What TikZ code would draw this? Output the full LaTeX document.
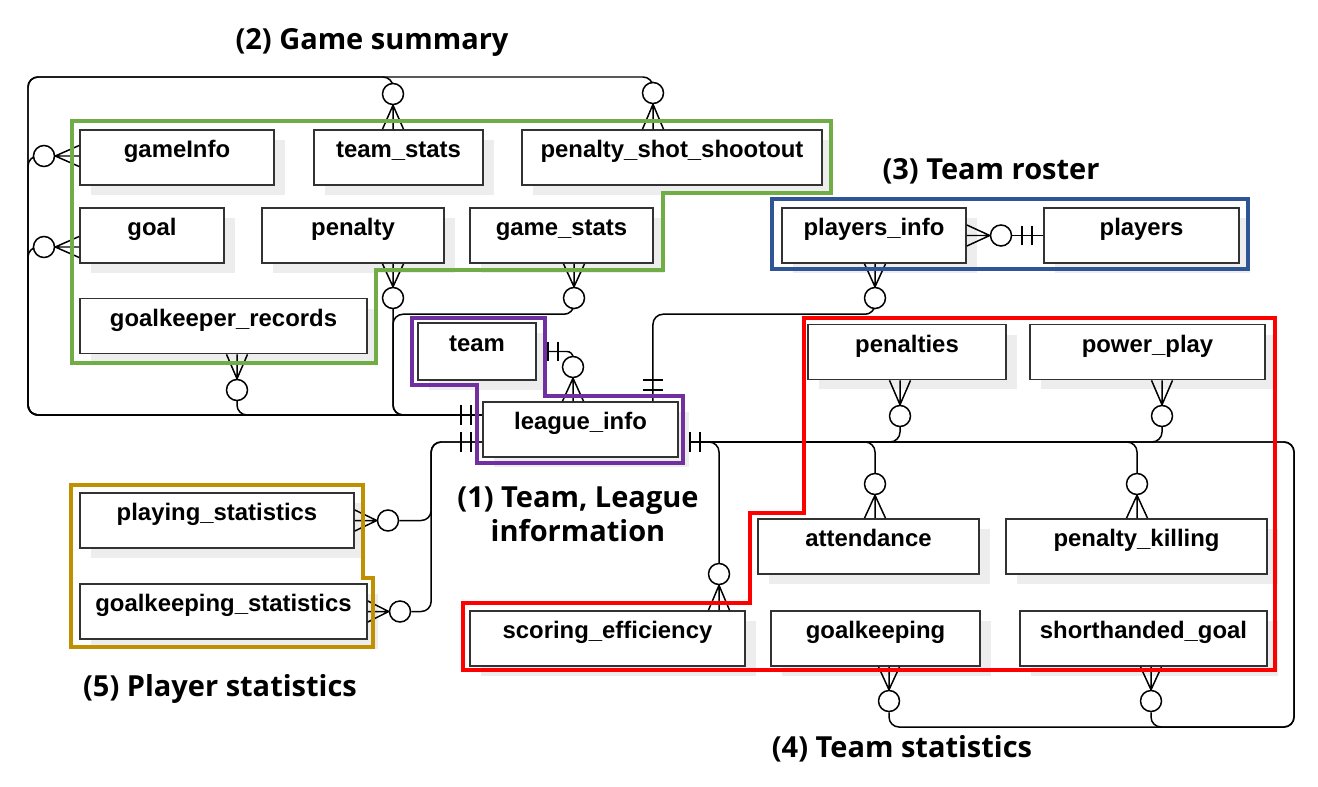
\documentclass[tikz,border=0pt]{standalone}
\usepackage{fontspec}
\setmainfont{Liberation Sans}
\newfontfamily\labelfont{Open Sans}[BoldFont={* Bold}]
\usepackage{tikz}
\usetikzlibrary{calc, shadows, backgrounds}
\definecolor{summarycolor}{RGB}{112, 173, 71}
\definecolor{rostercolor}{RGB}{47, 85, 151}
\definecolor{statscolor}{RGB}{255, 0, 0}
\definecolor{leaguecolor}{RGB}{112, 48, 160}
\definecolor{playercolor}{RGB}{191, 144, 0}
\definecolor{boxline}{RGB}{50, 50, 50}

\tikzset{
  entity/.style={draw=boxline, line width=1pt, fill=white, minimum height=1.1cm,
    text height=0.35cm, text depth=0.35cm, inner sep=0pt,
    font=\fontsize{13.6}{16}\selectfont\bfseries,
    drop shadow={shadow xshift=0.22cm, shadow yshift=-0.2cm, fill=black!7, opacity=1}},
  zero/.style={circle, draw, line width=0.85pt, fill=white, minimum size=0.42cm, inner sep=0pt},
  conn/.style={line width=0.85pt, rounded corners=0.2cm},
  group/.style={line width=2.5pt},
  grouplabel/.style={font=\labelfont\bfseries\fontsize{16.5}{19.4}\selectfont, align=center}
}

% crow's foot: #1 apex at the circle, #2 middle of the box edge
\newcommand{\crowfoot}[2]{%
  \draw[line width=0.85pt] (#1) -- (#2)
    (#1) -- ($(#2)!0.21cm!90:(#1)$)
    (#1) -- ($(#2)!0.21cm!-90:(#1)$);}
% exactly one: #1 point on the box edge, #2 direction of the line
\newcommand{\onlyone}[2]{%
  \draw[line width=0.85pt] (#1) ++(#2:0.22cm) ++(#2+90:0.2cm) -- ++(#2-90:0.4cm)
    (#1) ++(#2:0.42cm) ++(#2+90:0.2cm) -- ++(#2-90:0.4cm);}

\begin{document}
\begin{tikzpicture}[x=0.02cm, y=-0.02cm]
    \useasboundingbox (0,0) rectangle (1318,787);

    % Game summary
    \node[entity, minimum width=3.88cm] (gameinfo) at (177,157.5) {gameInfo};
    \node[entity, minimum width=3.38cm] (teamstats) at (398.5,157.5) {team\_stats};
    \node[entity, minimum width=6.0cm] (shootout) at (672,157.5) {penalty\_shot\_shootout};
    \node[entity, minimum width=2.88cm] (goal) at (152,235.5) {goal};
    \node[entity, minimum width=3.64cm] (penalty) at (353,235.5) {penalty};
    \node[entity, minimum width=3.66cm] (gamestats) at (561.5,235.5) {game\_stats};
    \node[entity, minimum width=5.74cm] (gkrecords) at (223.5,326) {goalkeeper\_records};

    % Team, league information
    \node[entity, minimum width=2.36cm, minimum height=1.14cm] (team) at (477,351.5) {team};
    \node[entity, minimum width=3.9cm] (leagueinfo) at (580.5,429.5) {league\_info};

    % Team roster
    \node[entity, minimum width=3.68cm] (playersinfo) at (874,235.5) {players\_info};
    \node[entity, minimum width=3.9cm] (players) at (1141.5,235.5) {players};

    % Team statistics
    \node[entity, minimum width=3.96cm] (penalties) at (907,352) {penalties};
    \node[entity, minimum width=4.7cm] (powerplay) at (1147.5,352) {power\_play};
    \node[entity, minimum width=4.42cm] (attendance) at (868.5,546.5) {attendance};
    \node[entity, minimum width=5.22cm] (penaltykilling) at (1136.5,546.5) {penalty\_killing};
    \node[entity, minimum width=5.5cm] (scoring) at (607.5,638.5) {scoring\_efficiency};
    \node[entity, minimum width=4.18cm] (goalkeeping) at (875.5,638.5) {goalkeeping};
    \node[entity, minimum width=4.94cm] (shorthanded) at (1143.5,638.5) {shorthanded\_goal};

    % Player statistics
    \node[entity, minimum width=5.48cm] (playingstats) at (217,520.5) {playing\_statistics};
    \node[entity, minimum width=5.74cm] (gkstats) at (223.5,611.5) {goalkeeping\_statistics};

    % zero-or-many circles
    \node[zero] (tsc) at (393,94) {};
    \node[zero] (ssc) at (653,93) {};
    \node[zero] (gic) at (44,156) {};
    \node[zero] (glc) at (44,247) {};
    \node[zero] (grc) at (237,390) {};
    \node[zero] (pec) at (393,298) {};
    \node[zero] (gsc) at (574,298) {};
    \node[zero] (tlc) at (573,367) {};
    \node[zero] (pic) at (875,298) {};
    \node[zero] (pyc) at (1001,235.5) {};
    \node[zero] (pnc) at (900,416) {};
    \node[zero] (ppc) at (1162,416) {};
    \node[zero] (atc) at (875,484) {};
    \node[zero] (pkc) at (1137,484) {};
    \node[zero] (sec) at (719,574) {};
    \node[zero] (gkc) at (889,701) {};
    \node[zero] (sgc) at (1151,701) {};
    \node[zero] (psc) at (388,520.5) {};
    \node[zero] (gksc) at (400,611.5) {};

    % line ends
    \coordinate (li-in1) at ([yshift=0.29cm]leagueinfo.west);
    \coordinate (li-in2) at ([yshift=-0.25cm]leagueinfo.west);
    \coordinate (li-out) at ([yshift=-0.25cm]leagueinfo.east);
    \coordinate (pl-in) at ([xshift=1.45cm]leagueinfo.north);
    \coordinate (sum-corner) at (28,77);
    \coordinate (stat-corner) at (1294,727);
    \coordinate (pstat-bus) at ([xshift=-1.02cm]li-in2);

    \begin{pgfonlayer}{background}
    % Relationship lines
    \draw[conn] (ssc.north) |- (sum-corner) |- (li-in1);
    \draw[conn] (tsc.north) |- (sum-corner) |- (li-in1);
    \draw[conn] (gic.west) -| (sum-corner |- li-in1) -- (li-in1);
    \draw[conn] (glc.west) -| (sum-corner |- li-in1) -- (li-in1);
    \draw[conn] (grc.south) |- (li-in1);
    \draw[conn] (pec.south) |- (li-in1);
    \draw[conn] (gsc.south) -- ++(0,5) -| (pec.south |- li-in1) -- (li-in1);
    \draw[conn, rounded corners=0.12cm] (team.east) -| (tlc.north);
    \draw[conn] (pic.south) -- ++(0,5) -| (pl-in);
    \draw[conn] (pyc.east) -- (players.west);
    \draw[conn] (pnc.south) |- (li-out);
    \draw[conn] (ppc.south) |- (li-out);
    \draw[conn] (atc.north) |- (li-out);
    \draw[conn] (pkc.north) |- (li-out);
    \draw[conn] (sec.north) |- (li-out);
    \draw[conn] (gkc.south) |- (stat-corner) |- (li-out);
    \draw[conn] (sgc.south) |- (stat-corner) |- (li-out);
    \draw[conn] (psc.east) -| (pstat-bus) -- (li-in2);
    \draw[conn] (gksc.east) -| (pstat-bus) -- (li-in2);
    \end{pgfonlayer}

    % Crow's feet
    \crowfoot{tsc.south}{tsc |- teamstats.north}
    \crowfoot{ssc.south}{ssc |- shootout.north}
    \crowfoot{gic.east}{gic -| gameinfo.west}
    \crowfoot{glc.east}{glc -| goal.west}
    \crowfoot{grc.north}{grc |- gkrecords.south}
    \crowfoot{pec.north}{pec |- penalty.south}
    \crowfoot{gsc.north}{gsc |- gamestats.south}
    \crowfoot{tlc.south}{tlc |- leagueinfo.north}
    \crowfoot{pyc.west}{pyc -| playersinfo.east}
    \crowfoot{pic.north}{pic |- playersinfo.south}
    \crowfoot{pnc.north}{pnc |- penalties.south}
    \crowfoot{ppc.north}{ppc |- powerplay.south}
    \crowfoot{atc.south}{atc |- attendance.north}
    \crowfoot{pkc.south}{pkc |- penaltykilling.north}
    \crowfoot{sec.south}{sec |- scoring.north}
    \crowfoot{gkc.north}{gkc |- goalkeeping.south}
    \crowfoot{sgc.north}{sgc |- shorthanded.south}
    \crowfoot{psc.west}{psc -| playingstats.east}
    \crowfoot{gksc.west}{gksc -| gkstats.east}

    % Exactly one
    \onlyone{team.east}{0}
    \onlyone{players.west}{180}
    \onlyone{pl-in}{90}
    \onlyone{li-in1}{180}
    \onlyone{li-in2}{180}
    \onlyone{li-out}{0}

    % Group frames
    \draw[group, summarycolor] (72,121) -- (831,121) -- (831,193) -- (663,193) -- (663,270)
        -- (376,270) -- (376,363) -- (72,363) -- cycle;
    \draw[group, leaguecolor] (412,318) -- (545,318) -- (545,396) -- (683,396) -- (683,463)
        -- (477,463) -- (477,385) -- (412,385) -- cycle;
    \draw[group, rostercolor] (772,199) rectangle (1248,269);
    \draw[group, statscolor] (804,318) -- (1275,318) -- (1275,670) -- (463,670) -- (463,603)
        -- (750,603) -- (750,513) -- (804,513) -- cycle;
    \draw[group, playercolor] (71,485) -- (363,485) -- (363,578) -- (373,578) -- (373,647)
        -- (71,647) -- cycle;

    % Group labels
    \node[grouplabel] (summary-label) at (372,42) {(2) Game summary};
    \node[grouplabel] (roster-label) at (991,171) {(3) Team roster};
    \node[grouplabel] (league-label) at (578,514) {(1) Team, League\\information};
    \node[grouplabel] (player-label) at (220,689) {(5) Player statistics};
    \node[grouplabel] (teamstat-label) at (902,749) {(4) Team statistics};
\end{tikzpicture}
\end{document}
